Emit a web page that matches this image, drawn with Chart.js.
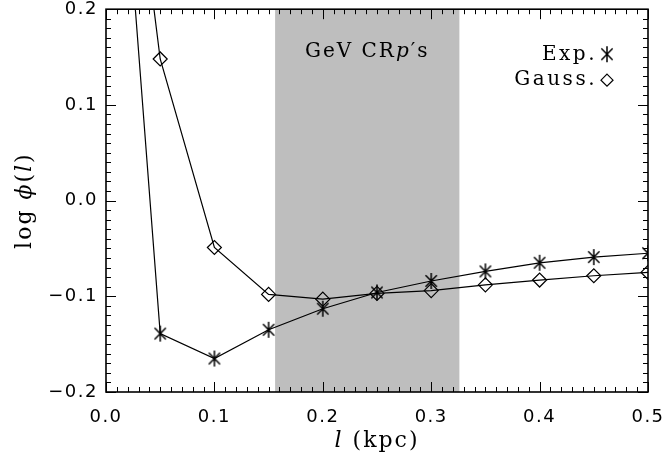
<!DOCTYPE html>
<html>
<head>
<meta charset="utf-8">
<script src="https://cdn.jsdelivr.net/npm/chart.js@4/dist/chart.umd.min.js"></script>
<style>
  html, body { margin: 0; padding: 0; background: #fff; }
  canvas { display: block; }
</style>
</head>
<body>
<canvas id="phiChart" width="665" height="460"></canvas>
<script>
// separation l (kpc) and log phi(l) for the two profiles
const lValues = [0.0, 0.05, 0.10, 0.15, 0.20, 0.25, 0.30, 0.35, 0.40, 0.45, 0.50];
const expValues = [0.60, -0.139, -0.165, -0.135, -0.113, -0.096, -0.084, -0.074, -0.065, -0.059, -0.055];
const gaussValues = [0.60, 0.148, -0.049, -0.098, -0.103, -0.097, -0.094, -0.088, -0.083, -0.0785, -0.075];
const seriesNames = ['Exp.', 'Gauss.'];

// axis ticks
const xTickValues = [0.0, 0.1, 0.2, 0.3, 0.4, 0.5];
const yTickValues = [-0.2, -0.1, 0.0, 0.1, 0.2];

// shaded band (GeV cosmic-ray protons)
const bandRange = [0.156, 0.326];

const SERIF = '"DejaVu Serif", "Liberation Serif", serif';
const SANS = '"DejaVu Sans", sans-serif';

// asterisk marker: vertical stroke plus an X
function makeAsterisk(r, lw) {
    const c = document.createElement('canvas');
    const size = Math.ceil(2 * r + 2);
    c.width = c.height = size;
    const g = c.getContext('2d');
    g.strokeStyle = '#000';
    g.lineWidth = lw;
    g.beginPath();
    [90, 45, 135].forEach(function (deg) {
        const a = deg * Math.PI / 180;
        g.moveTo(size / 2 - r * Math.cos(a), size / 2 - r * Math.sin(a));
        g.lineTo(size / 2 + r * Math.cos(a), size / 2 + r * Math.sin(a));
    });
    g.stroke();
    return c;
}
const asterisk = makeAsterisk(8, 1.5);

function fmt(v) {
    const r = Math.round(v * 10) / 10;
    const s = Math.abs(r).toFixed(1);
    return r < 0 ? '\u2212' + s : s;
}

// text with mixed upright / italic pieces
function drawParts(ctx, parts, x, y, size, align) {
    const widths = parts.map(function (p) {
        ctx.font = (p.italic ? 'italic ' : '') + size + 'px ' + SERIF;
        return ctx.measureText(p.text).width;
    });
    const total = widths.reduce(function (a, b) { return a + b; }, 0);
    let cx = align === 'right' ? x - total : (align === 'center' ? x - total / 2 : x);
    ctx.textAlign = 'left';
    parts.forEach(function (p, i) {
        ctx.font = (p.italic ? 'italic ' : '') + size + 'px ' + SERIF;
        ctx.fillText(p.text, cx, y);
        cx += widths[i];
    });
}

function noScalePadding(s) {
    s.paddingLeft = 0; s.paddingRight = 0;
    s.paddingTop = 0; s.paddingBottom = 0;
}

const paperPlugin = {
    id: 'paper',
    beforeDraw(chart) {
        chart.ctx.letterSpacing = '1.5px';
    },
    beforeDatasetsDraw(chart) {
        const ctx = chart.ctx, a = chart.chartArea, xs = chart.scales.x;
        ctx.save();
        ctx.fillStyle = 'rgb(190,190,190)';
        const x0 = xs.getPixelForValue(bandRange[0]);
        const x1 = xs.getPixelForValue(bandRange[1]);
        ctx.fillRect(x0, a.top, x1 - x0, a.bottom - a.top);
        ctx.restore();
    },
    afterDatasetsDraw(chart) {
        const ctx = chart.ctx, a = chart.chartArea;
        const xs = chart.scales.x, ys = chart.scales.y;
        ctx.save();
        ctx.strokeStyle = '#000';
        // inward ticks on all four sides
        ctx.lineWidth = 1;
        ctx.beginPath();
        for (let i = 0; i <= 50; i++) {
            const px = Math.round(xs.getPixelForValue(i * 0.01)) + 0.5;
            const len = i % 10 === 0 ? 10 : 5;
            ctx.moveTo(px, a.bottom); ctx.lineTo(px, a.bottom - len);
            ctx.moveTo(px, a.top); ctx.lineTo(px, a.top + len);
        }
        for (let i = 0; i <= 40; i++) {
            const py = Math.round(ys.getPixelForValue(-0.2 + i * 0.01)) + 0.5;
            const len = i % 10 === 0 ? 10 : 5;
            ctx.moveTo(a.left, py); ctx.lineTo(a.left + len, py);
            ctx.moveTo(a.right, py); ctx.lineTo(a.right - len, py);
        }
        ctx.stroke();
        ctx.lineWidth = 1.6;
        ctx.strokeRect(a.left, a.top, a.right - a.left, a.bottom - a.top);

        ctx.fillStyle = '#000';
        ctx.letterSpacing = '2px';
        ctx.textBaseline = 'alphabetic';

        // band label
        const mid = (xs.getPixelForValue(bandRange[0]) + xs.getPixelForValue(bandRange[1])) / 2;
        drawParts(ctx, [{ text: 'GeV CR' }, { text: 'p', italic: true }, { text: '\u2032s' }], mid, a.top + 48, 20, 'center');

        // legend
        ctx.letterSpacing = '2.5px';
        drawParts(ctx, [{ text: seriesNames[0] }], a.right - 51, a.top + 51, 20, 'right');
        drawParts(ctx, [{ text: seriesNames[1] }], a.right - 51, a.top + 76, 20, 'right');
        ctx.drawImage(asterisk, a.right - 41 - asterisk.width / 2, a.top + 45 - asterisk.height / 2);
        ctx.lineWidth = 1.2;
        const dx = a.right - 41, dy = a.top + 71;
        ctx.beginPath();
        ctx.moveTo(dx, dy - 6); ctx.lineTo(dx + 6, dy); ctx.lineTo(dx, dy + 6); ctx.lineTo(dx - 6, dy);
        ctx.closePath();
        ctx.stroke();

        // axis titles
        ctx.letterSpacing = '2px';
        ctx.textBaseline = 'middle';
        drawParts(ctx, [{ text: 'l', italic: true }, { text: ' (kpc)' }], (a.left + a.right) / 2, 441, 22, 'center');
        ctx.translate(25, (a.top + a.bottom) / 2);
        ctx.rotate(-Math.PI / 2);
        drawParts(ctx, [{ text: 'log ' }, { text: '\u03d5', italic: true }, { text: '(' }, { text: 'l', italic: true }, { text: ')' }], 0, 0, 22, 'center');
        ctx.restore();
    },
    afterDraw(chart) {
        chart.ctx.letterSpacing = '0px';
    }
};

const ctx = document.getElementById('phiChart').getContext('2d');

const phiChart = new Chart(ctx, {
    type: 'scatter',
    data: {
        datasets: [{
            label: seriesNames[0],
            data: lValues.map(function (l, i) { return { x: l, y: expValues[i] }; }),
            showLine: true,
            borderColor: '#000',
            borderWidth: 1.2,
            pointStyle: asterisk,
            pointRadius: 8
        }, {
            label: seriesNames[1],
            data: lValues.map(function (l, i) { return { x: l, y: gaussValues[i] }; }),
            showLine: true,
            borderColor: '#000',
            borderWidth: 1.2,
            pointStyle: 'rectRot',
            pointRadius: 7,
            pointBorderWidth: 1.2,
            pointBackgroundColor: 'rgba(0,0,0,0)',
            pointBorderColor: '#000'
        }]
    },
    options: {
        responsive: false,
        animation: false,
        layout: { padding: { top: 9, right: 17, left: 0, bottom: 0 } },
        plugins: {
            legend: { display: false },
            tooltip: { enabled: false }
        },
        scales: {
            x: {
                type: 'linear',
                min: 0,
                max: 0.5,
                afterFit: function (s) { s.height = 68; noScalePadding(s); },
                afterBuildTicks: function (s) { s.ticks = xTickValues.map(function (v) { return { value: v }; }); },
                grid: { display: false, drawTicks: false },
                border: { display: false },
                ticks: {
                    padding: 15,
                    color: '#000',
                    maxRotation: 0,
                    font: { family: SANS, size: 18 },
                    callback: function (v) { return fmt(v); }
                }
            },
            y: {
                min: -0.2,
                max: 0.2,
                afterFit: function (s) { s.width = 106; noScalePadding(s); },
                afterBuildTicks: function (s) { s.ticks = yTickValues.map(function (v) { return { value: v }; }); },
                grid: { display: false, drawTicks: false },
                border: { display: false },
                ticks: {
                    padding: 8,
                    color: '#000',
                    font: { family: SANS, size: 18 },
                    callback: function (v) { return fmt(v); }
                }
            }
        }
    },
    plugins: [paperPlugin]
});
</script>
</body>
</html>
